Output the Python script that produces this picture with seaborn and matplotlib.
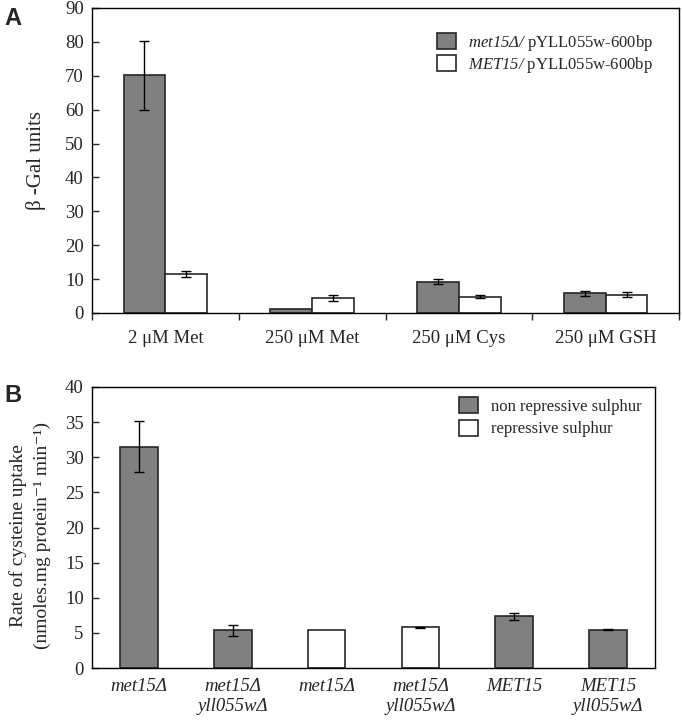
import numpy as np
import pandas as pd
import seaborn as sns
from matplotlib import pyplot as plt

sns.set_style('white')
plt.rcParams['font.family'] = ['Liberation Serif', 'DejaVu Serif']
# math parts are only used for the italic strain names
plt.rcParams['mathtext.fontset'] = 'custom'
plt.rcParams['mathtext.rm'] = 'Liberation Serif:italic'
plt.rcParams['mathtext.it'] = 'Liberation Serif:italic'

# Panel A data
conditions = ['2 μM Met', '250 μM Met', '250 μM Cys', '250 μM GSH']
strains_a = [r'$met15Δ/$ pYLL055w-600bp', r'$MET15/$ pYLL055w-600bp']
met15_vals = [70.15, 1.3, 9.2, 5.8]
met15_err = [10.15, 0.0, 0.7, 0.8]
MET15_vals = [11.4, 4.4, 4.8, 5.4]
MET15_err = [0.9, 0.8, 0.5, 0.8]

# Panel B data
strains_b = ['met15Δ', 'met15Δ\nyll055wΔ', 'met15Δ', 'met15Δ\nyll055wΔ', 'MET15', 'MET15\nyll055wΔ']
sulphur_b = ['non repressive sulphur', 'non repressive sulphur', 'repressive sulphur',
             'repressive sulphur', 'non repressive sulphur', 'non repressive sulphur']
uptake_vals = [31.5, 5.35, 5.35, 5.8, 7.35, 5.45]
uptake_err = [3.65, 0.75, 0.0, 0.1, 0.45, 0.06]

gray = '#808080'
edge = '#262626'

fig = plt.figure(figsize=(6.82, 7.2), dpi=100)
ax1 = fig.add_axes([0.1349, 0.5653, 0.8607, 0.4236])
ax2 = fig.add_axes([0.1349, 0.0722, 0.8255, 0.3903])

# ---- Panel A ----
df_a = pd.DataFrame({
    'cond': conditions * 2,
    'strain': [strains_a[0]] * 4 + [strains_a[1]] * 4,
    'val': met15_vals + MET15_vals,
    'err': met15_err + MET15_err,
})
sns.barplot(data=df_a, x='cond', y='val', hue='strain', hue_order=strains_a,
            palette=[gray, 'white'], edgecolor=edge, linewidth=1.2, width=0.57,
            errorbar=None, ax=ax1)
for cont, errs, vals in zip(ax1.containers, [met15_err, MET15_err], [met15_vals, MET15_vals]):
    xs = [p.get_x() + p.get_width() / 2 for p in cont.patches]
    for x, v, e in zip(xs, vals, errs):
        if e > 0:
            ax1.errorbar(x, v, yerr=e, color='black', lw=1, capsize=3.8, capthick=1)
ax1.set_ylim(0, 90)
ax1.set_xlim(-0.5, 3.5)
ax1.set_yticks(range(0, 91, 10))
ax1.set_xlabel('')
ax1.set_ylabel('β -Gal units', fontsize=15)
ax1.yaxis.set_label_coords(-0.078, 0.5)
ax1.set_xticks(np.arange(-0.5, 4, 1), minor=True)
ax1.tick_params(axis='x', which='major', length=0, labelsize=13.5, pad=12)
ax1.tick_params(axis='x', which='minor', direction='out', length=5, width=1, bottom=True)
ax1.tick_params(axis='y', direction='in', length=5, width=1, labelsize=13.5, pad=6, left=True)
h, l = ax1.get_legend_handles_labels()
ax1.legend(h, l, loc='upper left', bbox_to_anchor=(0.587, 0.918), frameon=False,
           fontsize=12, handlelength=1.15, handleheight=1.1, handletextpad=0.75,
           labelspacing=0.12, borderpad=0, borderaxespad=0)

# ---- Panel B ----
df_b = pd.DataFrame({
    'id': [f's{i}' for i in range(len(strains_b))],
    'sulphur': sulphur_b,
    'val': uptake_vals,
})
sns.barplot(data=df_b, x='id', y='val', hue='sulphur',
            hue_order=['non repressive sulphur', 'repressive sulphur'],
            palette=[gray, 'white'], dodge=False, edgecolor=edge, linewidth=1.2,
            width=0.4, errorbar=None, ax=ax2)
bars = sorted([p for c in ax2.containers for p in c.patches if p.get_height() > 0],
              key=lambda p: p.get_x())
for p, v, e in zip(bars, uptake_vals, uptake_err):
    if e > 0:
        ax2.errorbar(p.get_x() + p.get_width() / 2, v, yerr=e, color='black', lw=1,
                     capsize=3.8, capthick=1)
ax2.set_ylim(0, 40)
ax2.set_xlim(-0.5, 5.5)
ax2.set_yticks(range(0, 41, 5))
ax2.set_xticks(range(len(strains_b)))
ax2.set_xticklabels(strains_b, fontstyle='italic', linespacing=1.25)
ax2.set_xlabel('')
ax2.set_ylabel('Rate of cysteine uptake\n(nmoles.mg protein⁻¹ min⁻¹)',
               fontsize=14, linespacing=1.5)
ax2.yaxis.set_label_coords(-0.073, 0.47)
ax2.tick_params(axis='x', length=0, labelsize=13.5, pad=7)
ax2.tick_params(axis='y', direction='in', length=5, width=1, labelsize=13.5, pad=6, left=True)
h, l = ax2.get_legend_handles_labels()
ax2.legend(h, l, loc='upper left', bbox_to_anchor=(0.652, 0.965), frameon=False,
           fontsize=12, handlelength=1.15, handleheight=1.1, handletextpad=0.75,
           labelspacing=0.3, borderpad=0, borderaxespad=0)

for ax in (ax1, ax2):
    for s in ax.spines.values():
        s.set_color('black')
        s.set_linewidth(1.0)

fig.text(0.006, 0.99, 'A', fontsize=17, fontweight='bold', family='Liberation Sans', va='top')
fig.text(0.006, 0.466, 'B', fontsize=17, fontweight='bold', family='Liberation Sans', va='top')

fig.savefig('out.png', dpi=100)
